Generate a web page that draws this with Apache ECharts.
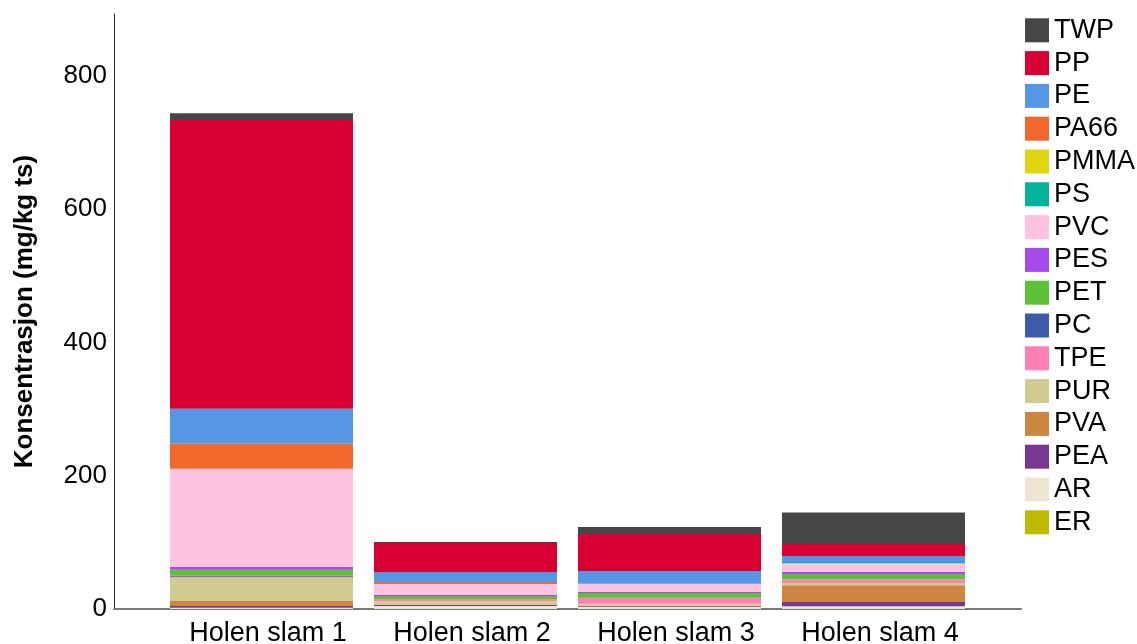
<!DOCTYPE html>
<html>
<head>
<meta charset="utf-8">
<script src="https://cdn.jsdelivr.net/npm/echarts@6/dist/echarts.min.js"></script>
<style>
  html, body { margin: 0; padding: 0; background: #fff; }
  #chart { width: 1137px; height: 644px; }
</style>
</head>
<body>
<div id="chart"></div>
<script>
  const categories = ['Holen slam 1', 'Holen slam 2', 'Holen slam 3', 'Holen slam 4'];
  const yTicks = [0, 200, 400, 600, 800];

  // legend order (top to bottom); stacking goes the other way
  const polymers = ['TWP', 'PP', 'PE', 'PA66', 'PMMA', 'PS', 'PVC', 'PES', 'PET', 'PC', 'TPE', 'PUR', 'PVA', 'PEA', 'AR', 'ER'];

  // mg/kg ts per sample
  const TWP  = [10, 1.5, 10.5, 47.5];
  const PP   = [433.5, 43.5, 55.5, 18];
  const PE   = [52, 15, 19, 9];
  const PA66 = [38, 3, 0, 0];
  const PMMA = [0, 0, 0, 0];
  const PS   = [0, 0, 0, 2];
  const PVC  = [147, 16.5, 12, 13];
  const PES  = [4.5, 1.5, 2, 3];
  const PET  = [9, 4.5, 7, 8];
  const PC   = [1.5, 0, 0, 0];
  const TPE  = [1.5, 3, 9, 5.5];
  const PUR  = [35, 6, 3, 3.5];
  const PVA  = [7.5, 0, 0, 25];
  const PEA  = [2.5, 1.5, 1.5, 6.5];
  const AR   = [2, 4.5, 3.5, 4];
  const ER   = [0, 0, 0, 0];

  const values = { TWP, PP, PE, PA66, PMMA, PS, PVC, PES, PET, PC, TPE, PUR, PVA, PEA, AR, ER };

  const colors = {
    TWP: '#464648', PP: '#d80032', PE: '#5596e5', PA66: '#f2672c',
    PMMA: '#e0d610', PS: '#00b39a', PVC: '#ffc2e0', PES: '#a64bea',
    PET: '#5cc136', PC: '#3d5ba9', TPE: '#ff80b4', PUR: '#d2cb8f',
    PVA: '#cd8742', PEA: '#783791', AR: '#eee6d3', ER: '#bfba00'
  };

  const font = 'Liberation Sans, Arial, sans-serif';
  const yMax = 893;

  // bottom of stack first
  const series = polymers.slice().reverse().map(function (name) {
    return {
      name: name,
      type: 'bar',
      stack: 'total',
      barWidth: 183,
      xAxisIndex: 1,
      yAxisIndex: 1,
      itemStyle: { color: colors[name] },
      data: values[name]
    };
  });

  const chart = echarts.init(document.getElementById('chart'));

  const option = {
    animation: false,
    backgroundColor: '#fff',
    grid: [
      // frame with the visible axis lines
      { left: 114, right: 116, top: 14, bottom: 35, outerBoundsMode: 'none' },
      // bars
      { left: 159.5, right: 161.5, top: 14, bottom: 35, outerBoundsMode: 'none' }
    ],
    legend: {
      data: polymers,
      orient: 'vertical',
      left: 1025,
      top: 16.8,
      padding: 0,
      icon: 'rect',
      itemWidth: 24,
      itemHeight: 24,
      itemGap: 5.8,
      textStyle: { fontFamily: font, fontSize: 27, color: '#000', padding: [0, 0, 0, 0] }
    },
    xAxis: [
      {
        gridIndex: 0,
        type: 'value',
        min: 0,
        max: 1,
        axisLine: { show: true, lineStyle: { color: '#7a7a7a', width: 2 } },
        axisTick: { show: false },
        axisLabel: { show: false },
        splitLine: { show: false }
      },
      {
        gridIndex: 1,
        type: 'category',
        data: categories,
        axisLine: { show: false },
        axisTick: { show: false },
        splitLine: { show: false },
        axisLabel: {
          interval: 0,
          fontFamily: font,
          fontSize: 27,
          color: '#000',
          margin: 11,
          padding: [0, 0, 0, 13]
        }
      }
    ],
    yAxis: [
      {
        gridIndex: 0,
        type: 'value',
        min: 0,
        max: yMax,
        name: 'Konsentrasjon (mg/kg ts)',
        nameLocation: 'middle',
        nameGap: 76,
        nameTextStyle: { fontFamily: font, fontSize: 26, fontWeight: 'bold', color: '#000' },
        axisLine: { show: true, lineStyle: { color: '#222', width: 1 } },
        axisTick: { show: false },
        splitLine: { show: false },
        axisLabel: { customValues: yTicks, fontFamily: font, fontSize: 26, color: '#000', margin: 7 }
      },
      {
        gridIndex: 1,
        type: 'value',
        min: 0,
        max: yMax,
        show: false,
        splitLine: { show: false }
      }
    ],
    series: series
  };

  chart.setOption(option);
</script>
</body>
</html>
